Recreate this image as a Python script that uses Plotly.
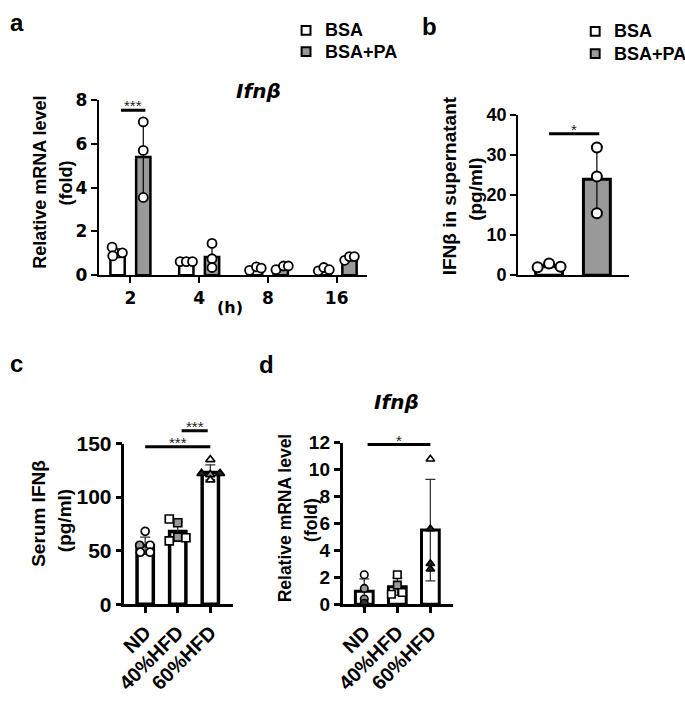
import numpy as np
import plotly.graph_objects as go

W, H = 685, 709
FONT = "Liberation Sans"
WIDE = "DejaVu Sans"

# ---------------- data ----------------
# panel a : Ifnb mRNA, time course
a_times = ["2", "4", "8", "16"]
a_series = ["BSA", "BSA+PA"]
a_bsa_mean = [1.0, 0.6, 0.3, 0.27]
a_bsa_sd = [0.2, 0.02, 0.08, 0.07]
a_bsa_pts = [[1.28, 0.88, 1.02], [0.62, 0.62, 0.62], [0.22, 0.38, 0.32], [0.2, 0.35, 0.25]]
a_pa_mean = [5.4, 0.83, 0.37, 0.8]
a_pa_sd = [1.75, 0.55, 0.08, 0.09]
a_pa_pts = [[7.0, 5.7, 3.55], [1.45, 0.75, 0.35], [0.25, 0.42, 0.42], [0.68, 0.85, 0.85]]
a_sig_y = 7.53
a_sig_text = "***"

# panel b : IFNb in supernatant
b_groups = ["BSA", "BSA+PA"]
b_mean = [2.3, 23.9]
b_sd = [0.45, 8.2]
b_pts = [[2.0, 2.9, 2.1], [31.8, 24.6, 15.4]]
b_sig_y = 35.2
b_sig_text = "*"

# panel c : serum IFNb
c_groups = ["ND", "40%HFD", "60%HFD"]
c_mean = [54.5, 67.8, 123.0]
c_sd = [8.0, 9.2, 7.0]
c_pts = [[68, 55, 55, 48.5, 48.5], [79.5, 76, 62.6, 59, 62], [135, 122, 121, 122, 116]]
c_sig = [(0, 2, 147, "***"), (1, 2, 162, "***")]

# panel d : Ifnb mRNA in tissue
d_groups = ["ND", "40%HFD", "60%HFD"]
d_mean = [0.95, 1.3, 5.5]
d_sd = [0.93, 0.65, 3.77]
d_pts = [[2.18, 1.17, 0.38, 0.07], [2.18, 1.41, 0.74, 0.86], [10.77, 5.6, 3.02, 2.6]]
d_sig = [(0, 2, 11.85, "*")]

# ---------------- style ----------------
GRAY = "#999999"
a_shift = 0.187
a_bw = 0.208
a_bsa_jit = [[-0.08, -0.07, 0.07], [-0.09, 0.0, 0.09], [-0.08, 0.02, 0.09], [-0.08, 0.0, 0.08]]
a_pa_jit = [[0, 0, 0], [0, 0, 0], [-0.07, 0.04, 0.11], [-0.07, 0.0, 0.07]]
b_jit = [[-0.24, 0.0, 0.24], [0, 0, 0]]
c_jit = [[0, -0.17, 0.15, -0.15, 0.15], [-0.26, 0, 0, -0.26, 0.25], [0, -0.27, 0, 0.3, 0]]
c_col = [["white", GRAY, "white", "white", "white"],
         ["white", GRAY, GRAY, "white", "white"],
         ["white", "#222222", GRAY, "#222222", "white"]]
d_jit = [[0, 0, 0, 0], [0, 0, -0.18, 0.15], [0, 0, 0, 0]]
d_col = [["white", GRAY, GRAY, "#333333"], ["white", GRAY, "white", "white"],
         ["white", "#222222", "#222222", "#222222"]]
series_fill = ["white", GRAY]


def dx(l, r):
    return [l / W, r / W]


def dy(t, b):
    return [1 - b / H, 1 - t / H]


def px(x):
    return x / W


def py(y):
    return 1 - y / H


fig = go.Figure()


def add_points(xs, ys, ax, ay, symbol, size, colors, lw):
    fig.add_trace(go.Scatter(
        x=xs, y=ys, mode="markers", xaxis=ax, yaxis=ay, showlegend=False,
        cliponaxis=False, hoverinfo="skip",
        marker=dict(symbol=symbol, size=size, color=colors,
                    line=dict(color="black", width=lw))))


def add_sig(x0, x1, yv, text, ax, ay, fs=15, shift=-6):
    fig.add_trace(go.Scatter(x=[x0, x1], y=[yv, yv], mode="lines", xaxis=ax, yaxis=ay,
                             showlegend=False, hoverinfo="skip",
                             line=dict(color="black", width=3)))
    fig.add_annotation(x=(x0 + x1) / 2, y=yv, xref=ax, yref=ay, text=text,
                       showarrow=False, yanchor="bottom", yshift=shift,
                       font=dict(family=FONT, size=fs, color="#222222"))


# ---- panel a ----
xa = np.arange(len(a_times))
for means, sds, sh, fill in [(a_bsa_mean, a_bsa_sd, -a_shift, series_fill[0]),
                             (a_pa_mean, a_pa_sd, a_shift, series_fill[1])]:
    fig.add_trace(go.Bar(x=xa + sh, y=means, width=a_bw, showlegend=False,
                         xaxis="x", yaxis="y",
                         marker=dict(color=fill, line=dict(color="black", width=2.5)),
                         error_y=dict(type="data", array=sds, color="black",
                                      thickness=1.2, width=3)))
for pts, jit, sh in [(a_bsa_pts, a_bsa_jit, -a_shift), (a_pa_pts, a_pa_jit, a_shift)]:
    xs = [i + sh + j for i, jj in enumerate(jit) for j in jj]
    ys = [v for p in pts for v in p]
    add_points(xs, ys, "x", "y", "circle", 9, "white", 1.8)
add_sig(-a_shift + 0.05, a_shift + 0.03, a_sig_y, a_sig_text, "x", "y")

# ---- panel b ----
xb = np.arange(len(b_groups))
fig.add_trace(go.Bar(x=xb, y=b_mean, width=0.5625, showlegend=False,
                     xaxis="x2", yaxis="y2",
                     marker=dict(color=series_fill, line=dict(color="black", width=3)),
                     error_y=dict(type="data", array=b_sd, color="black",
                                  thickness=1.2, width=6)))
xs = [i + j for i, jj in enumerate(b_jit) for j in jj]
ys = [v for p in b_pts for v in p]
add_points(xs, ys, "x2", "y2", "circle", 10, "white", 2)
add_sig(0, 1.05, b_sig_y, b_sig_text, "x2", "y2")

# ---- panel c ----
xc = np.arange(len(c_groups))
fig.add_trace(go.Bar(x=xc, y=c_mean, width=0.5, xaxis="x3", yaxis="y3", showlegend=False,
                     marker=dict(color="white", line=dict(color="black", width=3.5)),
                     error_y=dict(type="data", array=c_sd, color="#333333",
                                  thickness=1.3, width=5)))
c_sym = ["circle", "square", "triangle-up"]
for i in range(len(c_groups)):
    add_points([i + j for j in c_jit[i]], c_pts[i], "x3", "y3", c_sym[i], 8,
               c_col[i], 1.7)
for g0, g1, yv, t in c_sig:
    x0 = g0 if g0 == 0 else g0 + 0.12
    x1 = g1 if g0 == 0 else g1 - 0.08
    add_sig(x0, x1, yv, t, "x3", "y5")

# ---- panel d ----
xd = np.arange(len(d_groups))
fig.add_trace(go.Bar(x=xd, y=d_mean, width=0.537, xaxis="x4", yaxis="y4", showlegend=False,
                     marker=dict(color="white", line=dict(color="black", width=3)),
                     error_y=dict(type="data", array=d_sd, color="#333333",
                                  thickness=1.3, width=5)))
for i in range(len(d_groups)):
    add_points([i + j for j in d_jit[i]], d_pts[i], "x4", "y4", c_sym[i], 7.5,
               d_col[i], 1.6)
for g0, g1, yv, t in d_sig:
    add_sig(g0 + 0.1, g1, yv, t, "x4", "y4")

# ---------------- axes ----------------


def yaxis(domain, rng, tickvals, fs, anchor, lw=2, fam=FONT):
    return dict(domain=domain, range=rng, tickvals=tickvals, showline=True,
                linecolor="black", linewidth=lw, ticks="outside", ticklen=6,
                tickwidth=lw, tickcolor="black", showgrid=False, zeroline=False,
                anchor=anchor, fixedrange=True,
                tickfont=dict(family=fam, size=fs, weight="bold", color="black"))


def xaxis(domain, rng, ticktext, fs, anchor, ticks=True, angle=0, lw=2, fam=FONT):
    return dict(domain=domain, range=rng, tickvals=list(range(len(ticktext))),
                ticktext=ticktext, showline=True, linecolor="black", linewidth=lw,
                ticks="outside" if ticks else "", ticklen=6, tickwidth=lw,
                tickcolor="black", showgrid=False, zeroline=False, anchor=anchor,
                showticklabels=ticks, tickangle=angle, fixedrange=True,
                tickfont=dict(family=fam, size=fs, weight="bold", color="black"))


# panel pixel boxes
A = dict(l=91, r=363, t=91, b=272)
B = dict(l=516, r=628, t=106, b=272)
C = dict(l=117, r=227, t=446, b=612)
D = dict(l=338, r=450, t=445, b=612)
C_EXT_TOP = 400
c_ymax = 150
c_ext_max = c_ymax * (C["b"] - C_EXT_TOP) / (C["b"] - C["t"])

fig.update_layout(
    width=W, height=H, margin=dict(l=0, r=0, t=0, b=0),
    paper_bgcolor="white", plot_bgcolor="rgba(0,0,0,0)", barmode="overlay",
    font=dict(family=FONT, color="black"), showlegend=False,
    xaxis=xaxis(dx(A["l"], A["r"]), [-0.46, 3.445], a_times, 17, "y", fam=WIDE),
    yaxis=yaxis(dy(A["t"], A["b"]), [0, 8], [0, 2, 4, 6, 8], 17, "x", fam=WIDE),
    xaxis2=xaxis(dx(B["l"], B["r"]), [-0.646, 1.667], b_groups, 16, "y2", ticks=False),
    yaxis2=yaxis(dy(B["t"], B["b"]), [0, 40], [0, 10, 20, 30, 40], 18, "x2"),
    xaxis3=xaxis(dx(C["l"], C["r"]), [-0.636, 2.697], c_groups, 20, "y3", angle=-45, lw=2.5),
    yaxis3=yaxis(dy(C["t"], C["b"]), [0, c_ymax], [0, 50, 100, 150], 21, "x3", lw=2.5),
    xaxis4=xaxis(dx(D["l"], D["r"]), [-0.657, 2.687], d_groups, 20, "y4", angle=-45, lw=2.5),
    yaxis4=yaxis(dy(D["t"], D["b"]), [0, 12], [0, 2, 4, 6, 8, 10, 12], 19, "x4", lw=2.5),
    yaxis5=dict(domain=dy(C_EXT_TOP, C["b"]), range=[0, c_ext_max], visible=False,
                anchor="x3", fixedrange=True),
)


def label(text, x, y, size, angle=0, weight="bold", style="normal", fam=FONT,
          anchor="center"):
    fig.add_annotation(text=text, x=px(x), y=py(y), xref="paper", yref="paper",
                       showarrow=False, xanchor=anchor, yanchor="middle",
                       textangle=angle,
                       font=dict(family=fam, size=size, weight=weight, style=style,
                                 color="black"))


# legends (manual keys)
for (sx, tx, ys) in [(301, 318, [19, 41]), (594, 611, [20, 43])]:
    for name, fill, yc in zip(a_series, series_fill, ys):
        fig.add_shape(type="rect", xref="paper", yref="paper",
                      x0=px(sx - 4.5), x1=px(sx + 4.5), y0=py(yc + 4.5), y1=py(yc - 4.5),
                      fillcolor=fill, line=dict(color="black", width=2))
        label(name, tx, yc, 18, anchor="left")

# panel letters
label("a", 8, 11, 24)
label("b", 426, 15, 24)
label("c", 8, 363, 24)
label("d", 261, 364, 24)
# titles
label("Ifnβ", 253, 82, 20, style="italic", fam=WIDE)
label("Ifnβ", 393, 403, 20, style="italic", fam=WIDE)
# axis titles
label("Relative mRNA level", 32, 176, 18, angle=-90)
label("(fold)", 58, 177, 18, angle=-90)
label("(h)", 224, 305, 16, fam=WIDE)
label("IFNβ in supernatant", 446, 180, 19, angle=-90)
label("(pg/ml)", 472, 183, 19, angle=-90)
label("Serum IFNβ", 30, 518, 19, angle=-90)
label("(pg/ml)", 57, 526, 19, angle=-90)
label("Relative mRNA level", 280, 523, 17.5, angle=-90)
label("(fold)", 306, 525, 17.5, angle=-90)

fig.write_html("out.html", config={"displayModeBar": False},
               post_script="document.body.style.margin='0px';"
                           "document.body.style.overflow='hidden';")
